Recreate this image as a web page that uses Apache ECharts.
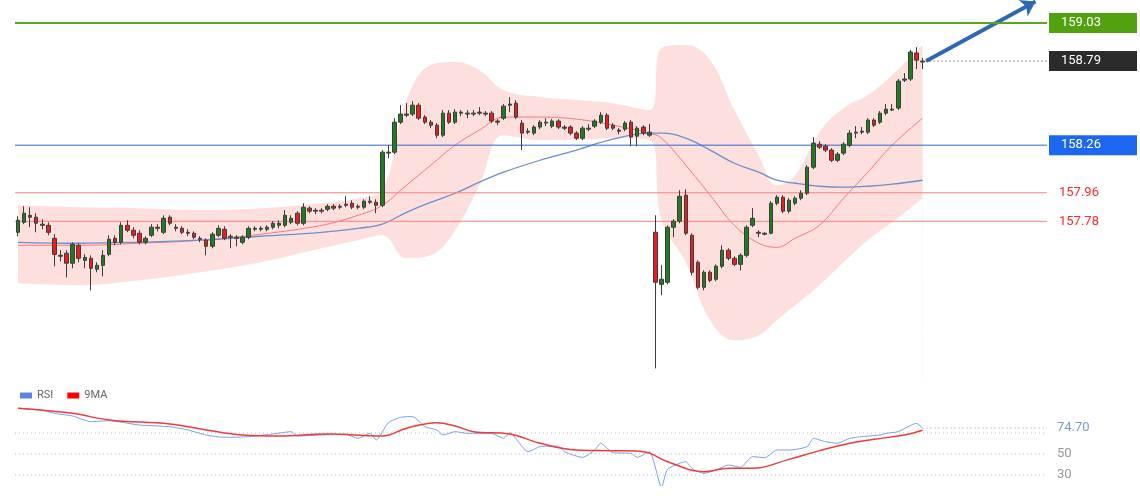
<!DOCTYPE html>
<html><head><meta charset="utf-8">
<script src="https://cdn.jsdelivr.net/npm/echarts@6/dist/echarts.min.js"></script>
<style>html,body{margin:0;padding:0;background:#fff}#c{width:1140px;height:500px}</style>
</head><body><div id="c"></div>
<script>
// OHLC candles: [open, close, low, high]
const candles = [
[157.711,157.787,157.686,157.812],[157.774,157.831,157.762,157.875],[157.818,157.806,157.743,157.869],[157.806,157.768,157.711,157.831],
[157.762,157.755,157.730,157.793],[157.755,157.711,157.692,157.774],[157.673,157.572,157.497,157.699],[157.566,157.560,157.528,157.598],
[157.579,157.516,157.427,157.598],[157.516,157.635,157.484,157.648],[157.629,157.547,157.522,157.642],[157.534,157.553,157.484,157.572],
[157.547,157.484,157.345,157.566],[157.478,157.503,157.459,157.522],[157.503,157.566,157.433,157.598],[157.572,157.667,157.560,157.692],
[157.673,157.648,157.629,157.692],[157.648,157.755,157.635,157.774],[157.755,157.724,157.711,157.787],[157.724,157.692,157.673,157.743],
[157.705,157.648,157.635,157.724],[157.648,157.673,157.635,157.686],[157.692,157.743,157.680,157.762],[157.743,157.736,157.717,157.762],
[157.711,157.799,157.699,157.818],[157.806,157.768,157.755,157.818],[157.743,157.736,157.717,157.762],[157.736,157.711,157.699,157.749],
[157.711,157.705,157.686,157.730],[157.705,157.680,157.667,157.717],[157.673,157.667,157.648,157.686],[157.661,157.623,157.566,157.673],
[157.623,157.699,157.610,157.711],[157.692,157.736,157.680,157.755],[157.730,157.673,157.661,157.749],[157.686,157.680,157.610,157.699],
[157.680,157.673,157.623,157.692],[157.648,157.680,157.635,157.692],[157.680,157.736,157.667,157.749],[157.730,157.736,157.717,157.749],
[157.730,157.736,157.717,157.749],[157.730,157.743,157.717,157.755],[157.743,157.768,157.730,157.781],[157.755,157.768,157.736,157.787],
[157.755,157.818,157.743,157.850],[157.774,157.799,157.762,157.818],[157.831,157.768,157.755,157.844],[157.768,157.869,157.755,157.894],
[157.863,157.844,157.831,157.875],[157.850,157.844,157.825,157.863],[157.850,157.844,157.831,157.863],[157.856,157.875,157.844,157.888],
[157.875,157.863,157.850,157.888],[157.875,157.869,157.856,157.888],[157.888,157.881,157.869,157.938],[157.894,157.869,157.856,157.913],
[157.875,157.869,157.856,157.888],[157.869,157.907,157.856,157.919],[157.900,157.907,157.888,157.938],[157.900,157.881,157.831,157.919],
[157.881,158.216,157.869,158.229],[158.210,158.216,158.178,158.260],[158.216,158.405,158.203,158.430],[158.405,158.456,158.393,158.512],
[158.449,158.456,158.437,158.525],[158.456,158.512,158.443,158.538],[158.512,158.430,158.418,158.525],[158.437,158.405,158.393,158.449],
[158.405,158.386,158.367,158.418],[158.386,158.323,158.304,158.399],[158.323,158.462,158.311,158.481],[158.462,158.405,158.393,158.481],
[158.405,158.468,158.393,158.487],[158.462,158.468,158.443,158.481],[158.456,158.462,158.430,158.481],[158.462,158.456,158.443,158.481],
[158.462,158.468,158.449,158.500],[158.462,158.456,158.443,158.475],[158.462,158.412,158.399,158.475],[158.412,158.405,158.386,158.424],
[158.430,158.506,158.418,158.519],[158.512,158.519,158.468,158.563],[158.525,158.437,158.424,158.544],[158.399,158.336,158.229,158.418],
[158.348,158.342,158.329,158.367],[158.336,158.374,158.323,158.386],[158.374,158.405,158.361,158.418],[158.399,158.405,158.380,158.430],
[158.380,158.412,158.367,158.424],[158.412,158.374,158.361,158.424],[158.374,158.367,158.355,158.386],[158.374,158.336,158.323,158.386],
[158.336,158.304,158.292,158.348],[158.304,158.367,158.292,158.380],[158.361,158.367,158.348,158.393],[158.380,158.412,158.367,158.424],
[158.405,158.449,158.393,158.468],[158.449,158.367,158.355,158.462],[158.386,158.367,158.355,158.399],[158.355,158.348,158.329,158.367],
[158.361,158.399,158.348,158.412],[158.405,158.311,158.254,158.418],[158.317,158.367,158.254,158.380],[158.374,158.336,158.323,158.386],
[158.323,158.342,158.311,158.393],[157.711,157.396,156.853,157.818],[157.383,157.415,157.314,157.503],[157.396,157.743,157.383,157.755],
[157.743,157.781,157.680,157.793],[157.781,157.938,157.768,157.976],[157.945,157.705,157.692,157.982],[157.692,157.459,157.440,157.705],
[157.522,157.364,157.351,157.534],[157.364,157.459,157.345,157.471],[157.459,157.408,157.396,157.471],[157.415,157.497,157.402,157.509],
[157.497,157.598,157.484,157.629],[157.598,157.547,157.534,157.610],[157.547,157.509,157.497,157.560],[157.509,157.566,157.471,157.579],
[157.566,157.743,157.553,157.755],[157.755,157.799,157.743,157.863],[157.711,157.705,157.680,157.724],[157.705,157.699,157.692,157.711],
[157.705,157.894,157.699,157.907],[157.894,157.932,157.881,157.945],[157.932,157.844,157.831,157.945],[157.844,157.913,157.831,157.926],
[157.894,157.926,157.881,157.938],[157.926,157.957,157.913,157.976],[157.957,158.121,157.945,158.134],[158.121,158.273,158.109,158.311],
[158.266,158.247,158.235,158.285],[158.254,158.229,158.216,158.266],[158.229,158.165,158.153,158.241],[158.165,158.203,158.153,158.216],
[158.210,158.266,158.197,158.279],[158.260,158.336,158.247,158.355],[158.336,158.342,158.304,158.380],[158.342,158.348,158.329,158.374],
[158.342,158.418,158.329,158.430],[158.418,158.386,158.374,158.430],[158.405,158.462,158.393,158.475],[158.462,158.487,158.449,158.519],
[158.481,158.487,158.475,158.519],[158.494,158.664,158.481,158.677],[158.670,158.677,158.658,158.714],[158.677,158.847,158.664,158.860],
[158.841,158.796,158.740,158.878],[158.790,158.784,158.740,158.809]
];
// Indicator readings at sparse candle indices
const bandIdx = [0,10,20,30,40,50,56,60,64,68,72,76,80,86,92,98,104,106,110,114,118,122,125,128,132,136,140,144,149];
const bbUpper = [157.881,157.869,157.863,157.850,157.863,157.894,157.926,157.976,158.544,158.765,158.784,158.733,158.607,158.563,158.544,158.525,158.481,158.872,158.891,158.796,158.481,158.197,158.008,158.071,158.342,158.494,158.576,158.702,158.891];
const bbLower = [157.389,157.377,157.408,157.459,157.522,157.610,157.661,157.692,157.547,157.566,157.724,158.008,158.323,158.292,158.292,158.304,158.292,157.787,157.522,157.156,157.030,157.061,157.156,157.251,157.377,157.522,157.661,157.774,157.926];
const maFast = [157.629,157.629,157.642,157.661,157.699,157.755,157.818,157.881,158.008,158.134,158.260,158.355,158.437,158.437,158.424,158.386,158.336,158.304,158.134,157.945,157.755,157.642,157.616,157.673,157.755,157.926,158.090,158.260,158.430];
const maSlow = [157.648,157.642,157.648,157.661,157.686,157.711,157.736,157.762,157.837,157.900,157.957,158.027,158.090,158.165,158.229,158.298,158.336,158.336,158.304,158.229,158.146,158.090,158.039,158.020,158.001,157.995,158.001,158.014,158.039];
const rsiIdx = [0,4,6,9,12,15,20,25,28,31,34,38,42,45,46,50,54,56,58,59,61,63,65,67,69,70,72,74,78,80,81,84,86,89,90,93,95,96,98,101,102,104,106,107,110,111,113,115,117,119,121,123,125,127,130,131,133,135,137,139,142,143,145,148,149];
const rsiVals = [93.5,91.9,88.7,86.2,80.8,81.7,77.6,76.0,72.9,68.1,65.9,66.5,69.1,71.3,67.1,68.1,68.7,64.9,69.7,63.3,79.8,84.9,85.6,76.0,72.9,68.1,71.3,69.7,69.7,64.9,70.3,52.2,57.0,57.6,52.2,46.8,53.8,60.2,51.3,50.6,46.8,52.2,18.3,35.4,42.7,36.4,31.6,34.8,39.5,37.3,47.5,46.5,53.8,53.8,57.0,64.9,61.7,60.2,64.9,66.5,68.1,69.7,71.3,79.2,74.7];
const ma9Idx = [0,9,15,25,31,37,43,51,60,64,69,72,75,81,86,92,98,103,107,113,117,121,127,132,137,141,146,149];
const ma9Vals = [93.5,88.7,82.4,78.6,72.9,68.1,67.1,69.1,67.1,74.5,79.8,76.7,71.3,69.1,60.2,53.8,53.2,52.2,42.7,33.2,36.4,36.4,44.9,53.2,60.2,64.0,68.1,72.7];
const levels = {resistance: 159.03, last: 158.79, pivot: 158.26, s1: 157.96, s2: 157.78};
const rsiLevels = [70, 50, 30];
const rsiLast = 74.70;
const slots = 170;
const categories = Array.from({length: slots}, (_, i) => String(i));

const pair = (idx, vals) => idx.map((x, k) => [x, vals[k]]);
const F = 'Roboto, "Liberation Sans", sans-serif';
const END = slots - 0.5;
function hline(value, start, color, width, type, label, xa, ya) {
  return {type: 'line', xAxisIndex: xa, yAxisIndex: ya, symbol: 'none', z: 6, silent: true,
    lineStyle: {color: color, width: width, type: type}, itemStyle: {color: color},
    data: [[start, value], [END, value]],
    endLabel: label || {show: false}};
}
function tag(bg, color, text) {
  return {show: true, formatter: text, color: color, backgroundColor: bg,
    padding: [4, 10, 3, 12], fontSize: 13, fontFamily: F, width: 66, distance: 2};
}
function plain(color, text, pad) {
  return {show: true, formatter: text, color: color, fontSize: 13, fontFamily: F, padding: [0,0,0,pad], distance: 0};
}
const chart = echarts.init(document.getElementById('c'), null, {renderer: 'canvas'});
chart.setOption({
  animation: false,
  grid: [
    {left: 15, top: 0, width: 1032, height: 380},
    {left: 15, top: 401.5, width: 1032, height: 84}
  ],
  legend: {left: 15, top: 385, itemWidth: 12, itemHeight: 6, itemGap: 14, icon: 'rect',
    textStyle: {color: '#666', fontSize: 11, fontFamily: F}, data: ['RSI', '9MA']},
  xAxis: [
    {type: 'category', data: categories, gridIndex: 0, show: false},
    {type: 'value', min: -0.5, max: END, gridIndex: 0, show: false},
    {type: 'value', min: -0.5, max: END, gridIndex: 1, show: false}
  ],
  yAxis: [
    {type: 'value', min: 156.78, max: 159.175, gridIndex: 0, show: false, splitLine: {show: false}},
    {type: 'value', min: 20, max: 100, gridIndex: 1, show: false, splitLine: {show: false}}
  ],
  series: [
    {type: 'line', name: 'bbUpper', xAxisIndex: 1, yAxisIndex: 0, smooth: 0.4, symbol: 'none', z: 1,
      lineStyle: {opacity: 0}, areaStyle: {color: 'rgb(253,224,222)', origin: 'start', opacity: 1}, data: pair(bandIdx, bbUpper), silent: true},
    {type: 'line', name: 'bbLower', xAxisIndex: 1, yAxisIndex: 0, smooth: 0.4, symbol: 'none', z: 2,
      lineStyle: {opacity: 0}, areaStyle: {color: '#ffffff', origin: 'start', opacity: 1}, data: pair(bandIdx, bbLower), silent: true},
    hline(levels.resistance, -0.5, '#5aa51a', 2, 'solid', tag('#53a10f', '#fff', levels.resistance.toFixed(2)), 1, 0),
    hline(levels.pivot, -0.5, '#2f63d6', 1, 'solid', tag('#1d68f2', '#fff', levels.pivot.toFixed(2)), 1, 0),
    hline(levels.s1, -0.5, '#ff8080', 1, 'solid', plain('#ff2a2a', levels.s1.toFixed(2), 12), 1, 0),
    hline(levels.s2, -0.5, '#ff8080', 1, 'solid', plain('#ff2a2a', levels.s2.toFixed(2), 12), 1, 0),
    hline(levels.last, 149.5, '#333', 1, [1, 3], tag('#2b2b2b', '#fff', levels.last.toFixed(2)), 1, 0),
    {type: 'line', xAxisIndex: 1, yAxisIndex: 0, data: [], z: 7, color: '#2e68b4',
      markLine: {symbol: ['none', 'arrow'], symbolSize: 14, silent: true, lineStyle: {color: '#2e68b4', width: 4, type: 'solid'}, label: {show: false},
        data: [[{coord: [149.6, levels.last]}, {coord: [167.6, 159.165]}]]}},
    {type: 'line', name: 'maFast', xAxisIndex: 1, yAxisIndex: 0, smooth: 0.4, symbol: 'none', z: 4,
      lineStyle: {color: '#f47a7a', width: 1}, data: pair(bandIdx, maFast)},
    {type: 'line', name: 'maSlow', xAxisIndex: 1, yAxisIndex: 0, smooth: 0.4, symbol: 'none', z: 4,
      lineStyle: {color: '#6a8fcf', width: 1.3}, data: pair(bandIdx, maSlow)},
    {type: 'candlestick', name: 'price', xAxisIndex: 0, yAxisIndex: 0, data: candles, barWidth: 4, z: 8,
      itemStyle: {color: '#1f7d1f', color0: '#ee1c1c', borderColor: '#3c3c3c', borderColor0: '#3c3c3c', borderWidth: 1}},
    hline(rsiLevels[0], -0.5, '#bbb', 1, [1, 3], null, 2, 1),
    hline(rsiLevels[1], -0.5, '#bbb', 1, [1, 3], plain('#999', String(rsiLevels[1]), 10), 2, 1),
    hline(rsiLevels[2], -0.5, '#bbb', 1, [1, 3], plain('#999', String(rsiLevels[2]), 10), 2, 1),
    hline(rsiLast, 149, '#8aa6e4', 1, [1, 3], plain('#7e98d2', rsiLast.toFixed(2), 10), 2, 1),
    {type: 'line', name: 'RSI', xAxisIndex: 2, yAxisIndex: 1, symbol: 'none', smooth: 0.2, z: 7,
      lineStyle: {color: '#7c9fe6', width: 1}, itemStyle: {color: '#5b86e0'}, data: pair(rsiIdx, rsiVals)},
    {type: 'line', name: '9MA', xAxisIndex: 2, yAxisIndex: 1, symbol: 'none', smooth: 0.4, z: 8,
      lineStyle: {color: '#f03a3a', width: 1.5}, itemStyle: {color: '#ff0000'}, data: pair(ma9Idx, ma9Vals)}
  ]
});
</script></body></html>
